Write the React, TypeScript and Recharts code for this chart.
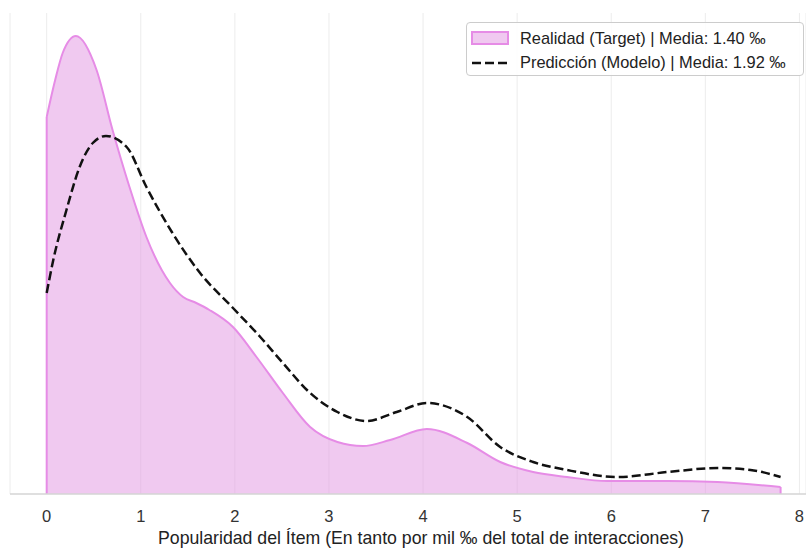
import {
  ComposedChart,
  Area,
  Line,
  XAxis,
  YAxis,
  CartesianGrid,
  ReferenceLine,
  Label,
} from "recharts";

// KDE (x in ‰, density in arbitrary units)
const targetX = [0, 0.09, 0.17, 0.31, 0.53, 0.7, 0.88, 1.06, 1.31, 1.45, 1.59, 1.73, 1.98, 2.23, 2.51, 2.8, 3.09, 3.36, 3.65, 4.04, 4.47, 4.82, 5.17, 5.53, 5.96, 6.6, 7.13, 7.8];
const targetDensity = [0.377, 0.414, 0.441, 0.458, 0.424, 0.364, 0.307, 0.257, 0.211, 0.197, 0.191, 0.184, 0.167, 0.137, 0.101, 0.067, 0.052, 0.048, 0.054, 0.065, 0.051, 0.032, 0.022, 0.017, 0.013, 0.013, 0.012, 0.007];

const predX = [0, 0.07, 0.21, 0.35, 0.49, 0.63, 0.85, 1.06, 1.33, 1.63, 1.98, 2.27, 2.51, 2.8, 3.09, 3.4, 3.72, 4.04, 4.47, 4.82, 5.17, 5.53, 6.07, 6.6, 7.13, 7.48, 7.8];
const predDensity = [0.201, 0.234, 0.284, 0.327, 0.351, 0.358, 0.347, 0.307, 0.262, 0.221, 0.186, 0.157, 0.131, 0.101, 0.082, 0.073, 0.082, 0.091, 0.077, 0.047, 0.032, 0.024, 0.017, 0.022, 0.026, 0.024, 0.017];

const xTicks = [0, 1, 2, 3, 4, 5, 6, 7, 8];
const targetLabel = "Realidad (Target) | Media: 1.40 ‰";
const predLabel = "Predicción (Modelo) | Media: 1.92 ‰";
const xLabel = "Popularidad del Ítem (En tanto por mil ‰ del total de interacciones)";

const targetData = targetX.map((x, i) => ({ x, y: targetDensity[i] }));
const predData = predX.map((x, i) => ({ x, y: predDensity[i] }));

const FONT = '"Liberation Sans", Arial, sans-serif';
const PINK = "#e68ce6";
const BORDER = "#d4d4d4";

// legend drawn as a plain overlay so it doesn't eat plot space
function LegendBox() {
  return (
    <div
      style={{
        position: "absolute",
        left: 466,
        top: 22,
        width: 338,
        height: 54,
        border: "1px solid #cccccc",
        borderRadius: 4,
        background: "rgba(255,255,255,0.85)",
        fontFamily: FONT,
        fontSize: 16.4,
        color: "#222",
        boxSizing: "border-box",
        padding: "3px 0 0 4px",
        whiteSpace: "nowrap",
      }}
    >
      <div style={{ display: "flex", alignItems: "center", height: 24 }}>
        <span
          style={{
            display: "inline-block",
            width: 34,
            height: 10,
            background: "rgba(225,147,225,0.5)",
            border: `2px solid ${PINK}`,
            marginRight: 11,
          }}
        />
        {targetLabel}
      </div>
      <div style={{ display: "flex", alignItems: "center", height: 25 }}>
        <svg width={38} height={6} style={{ marginRight: 11 }}>
          <line x1={1} y1={3} x2={38} y2={3} stroke="#111" strokeWidth={2.5} strokeDasharray="9 4" />
        </svg>
        {predLabel}
      </div>
    </div>
  );
}

export default function App() {
  return (
    <div style={{ position: "absolute", left: 0, top: 0, width: 806, height: 548, background: "#fff", overflow: "hidden" }}>
      <ComposedChart width={806} height={548} margin={{ top: 13, right: 0, left: 10, bottom: 0 }}>
        <CartesianGrid vertical horizontal={false} stroke="#ececec" strokeWidth={1} />
        <XAxis
          dataKey="x"
          type="number"
          domain={[-0.39, 8.07]}
          ticks={xTicks}
          allowDataOverflow
          height={54}
          tickLine={false}
          tickSize={0}
          tickMargin={16}
          axisLine={{ stroke: BORDER, strokeWidth: 1.5 }}
          tick={{ fill: "#333", fontSize: 16.5, fontFamily: FONT }}
        >
          <Label
            value={xLabel}
            position="insideBottom"
            offset={4}
            dx={13}
            style={{ fill: "#222", fontSize: 17.7, fontFamily: FONT }}
          />
        </XAxis>
        <XAxis
          xAxisId="top"
          orientation="top"
          dataKey="x"
          type="number"
          domain={[-0.39, 8.07]}
          height={0}
          tick={false}
          tickLine={false}
          axisLine={{ stroke: BORDER, strokeWidth: 1.5 }}
        />
        <YAxis
          type="number"
          domain={[0, 0.481]}
          allowDataOverflow
          width={0}
          tick={false}
          tickLine={false}
          axisLine={{ stroke: BORDER, strokeWidth: 1.5 }}
        />
        <Area
          data={targetData}
          dataKey="y"
          type="monotone"
          stroke={PINK}
          strokeWidth={2}
          fill="#e193e1"
          fillOpacity={0.5}
          isAnimationActive={false}
          dot={false}
          activeDot={false}
        />
        <ReferenceLine
          segment={[
            { x: targetX[0], y: 0 },
            { x: targetX[0], y: targetDensity[0] },
          ]}
          stroke={PINK}
          strokeWidth={2}
        />
        <ReferenceLine
          segment={[
            { x: targetX[targetX.length - 1], y: 0 },
            { x: targetX[targetX.length - 1], y: targetDensity[targetDensity.length - 1] },
          ]}
          stroke={PINK}
          strokeWidth={2}
        />
        <Line
          data={predData}
          dataKey="y"
          type="monotone"
          stroke="#111"
          strokeWidth={2.5}
          strokeDasharray="9 4"
          dot={false}
          activeDot={false}
          isAnimationActive={false}
        />
      </ComposedChart>
      <LegendBox />
    </div>
  );
}
